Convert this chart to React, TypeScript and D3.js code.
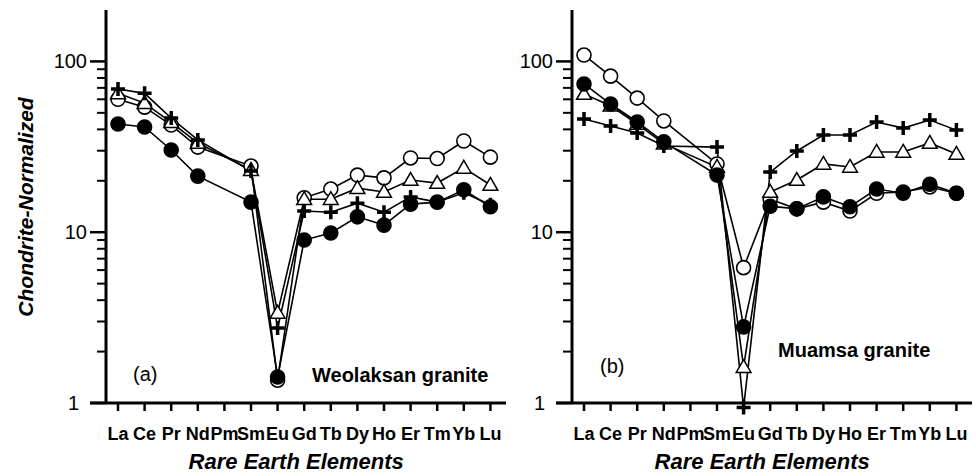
import React, { useEffect, useRef } from "react";
import * as d3 from "d3";

const elements = ["La", "Ce", "Pr", "Nd", "Pm", "Sm", "Eu", "Gd", "Tb", "Dy", "Ho", "Er", "Tm", "Yb", "Lu"];
const yTicks = [1, 10, 100];

// (a) Weolaksan granite
const weolOpen = [60, 54, 42.4, 31.5, null, 24.4, 1.36, 15.9, 17.9, 21.6, 20.8, 27.2, 27, 34.2, 27.5];
const weolFilled = [43, 41.3, 30.3, 21.3, null, 15.0, 1.42, 9.0, 9.9, 12.3, 11.0, 14.6, 15.0, 17.7, 14.1];
const weolTriangle = [65, 57, 44, 33.3, null, 23.1, 3.37, 15.6, 15.6, 18.1, 17.2, 20.2, 19.4, 23.8, 18.9];
const weolCross = [69, 65, 46.6, 34.7, null, 22.8, 2.75, 13.3, 13.1, 14.8, 13.1, 16.1, 15.0, 17.0, 14.5];

// (b) Muamsa granite
const muamOpen = [109, 82, 61, 44.8, null, 25.1, 6.2, 15.6, 13.7, 15.0, 13.3, 16.9, 17.2, 18.4, 16.9];
const muamFilled = [73.8, 56.3, 44.2, 33.8, null, 21.6, 2.79, 14.2, 13.7, 16.1, 14.1, 17.9, 16.9, 19.1, 16.9];
const muamTriangle = [64.4, 55, 43, 33, null, 24.1, 1.62, 17.2, 20.2, 25.1, 24.1, 29.5, 29.5, 33.3, 28.7];
const muamCross = [46, 41.9, 38.1, 32.0, null, 31.5, 0.94, 22.5, 29.9, 37.1, 37.1, 44.2, 40.7, 45.4, 39.6];

type Series = { values: (number | null)[]; marker: string };

const panels = [
  {
    axisX: 106, firstX: 118, axisEnd: 506, tag: "(a)", tagX: 133, tagY: 381,
    name: "Weolaksan granite", nameX: 312, nameY: 382, yTitle: true,
    series: [
      { values: weolOpen, marker: "open" },
      { values: weolTriangle, marker: "triangle" },
      { values: weolCross, marker: "cross" },
      { values: weolFilled, marker: "filled" },
    ] as Series[],
  },
  {
    axisX: 572, firstX: 584, axisEnd: 972, tag: "(b)", tagX: 600, tagY: 373,
    name: "Muamsa granite", nameX: 778, nameY: 357, yTitle: false,
    series: [
      { values: muamOpen, marker: "open" },
      { values: muamTriangle, marker: "triangle" },
      { values: muamCross, marker: "cross" },
      { values: muamFilled, marker: "filled" },
    ] as Series[],
  },
];

const FONT = "'Liberation Sans', Arial, sans-serif";

function drawPanel(svg: any, p: any) {
  const y = d3.scaleLog().domain([1, 200]).range([403, 10]);
  const x = d3.scalePoint().domain(elements).range([p.firstX, p.firstX + 14 * 26.6]);
  const g = svg.append("g");

  // y axis
  g.append("line").attr("x1", p.axisX).attr("x2", p.axisX).attr("y1", 10).attr("y2", 404)
    .attr("stroke", "#000").attr("stroke-width", 3);
  const minor: number[] = [];
  [1, 10].forEach((d) => { for (let k = 2; k <= 9; k++) minor.push(d * k); });
  g.selectAll(".minor").data(minor).join("line")
    .attr("x1", p.axisX - 9).attr("x2", p.axisX).attr("y1", (d: number) => y(d)).attr("y2", (d: number) => y(d))
    .attr("stroke", "#000").attr("stroke-width", 2);
  g.selectAll(".major").data(yTicks).join("line")
    .attr("x1", p.axisX - 16).attr("x2", p.axisX).attr("y1", (d: number) => y(d)).attr("y2", (d: number) => y(d))
    .attr("stroke", "#000").attr("stroke-width", 2.5);
  g.selectAll(".ylab").data(yTicks).join("text")
    .attr("x", (d: number) => (d === 1 ? p.axisX - 27 : p.axisX - 19)).attr("y", (d: number) => y(d) + 7)
    .attr("text-anchor", "end").attr("font-family", FONT).attr("font-size", 20)
    .text((d: number) => d);

  // x axis
  g.append("line").attr("x1", p.axisX - 16).attr("x2", p.axisEnd).attr("y1", 403).attr("y2", 403)
    .attr("stroke", "#000").attr("stroke-width", 3);
  g.selectAll(".xtick").data(elements).join("line")
    .attr("x1", (d: string) => x(d)).attr("x2", (d: string) => x(d)).attr("y1", 403).attr("y2", 411)
    .attr("stroke", "#000").attr("stroke-width", 2.5);
  g.selectAll(".xlab").data(elements).join("text")
    .attr("x", (d: string) => x(d)).attr("y", 440).attr("text-anchor", "middle")
    .attr("font-family", FONT).attr("font-weight", "bold").attr("font-size", 18)
    .text((d: string) => d);
  g.append("text").attr("x", (x("La")! + x("Lu")!) / 2 - 8).attr("y", 469).attr("text-anchor", "middle")
    .attr("font-family", FONT).attr("font-weight", "bold").attr("font-style", "italic").attr("font-size", 22)
    .text("Rare Earth Elements");

  if (p.yTitle) {
    g.append("text").attr("transform", "translate(33,207) rotate(-90)").attr("text-anchor", "middle")
      .attr("font-family", FONT).attr("font-weight", "bold").attr("font-style", "italic").attr("font-size", 21)
      .text("Chondrite-Normalized");
  }

  g.append("text").attr("x", p.tagX).attr("y", p.tagY).attr("font-family", FONT).attr("font-size", 20).text(p.tag);
  g.append("text").attr("x", p.nameX).attr("y", p.nameY).attr("font-family", FONT)
    .attr("font-weight", "bold").attr("font-size", 20).text(p.name);

  const pts = (s: Series) =>
    elements.map((e, i) => ({ e, v: s.values[i] })).filter((d) => d.v !== null) as { e: string; v: number }[];

  const line = d3.line<{ e: string; v: number }>().x((d) => x(d.e)!).y((d) => y(d.v));
  p.series.forEach((s: Series) => {
    g.append("path").attr("d", line(pts(s))).attr("fill", "none").attr("stroke", "#000").attr("stroke-width", 1.6);
  });

  p.series.forEach((s: Series) => {
    const mg = g.append("g");
    pts(s).forEach((d) => {
      const cx = x(d.e)!, cy = y(d.v);
      if (s.marker === "open" || s.marker === "filled") {
        mg.append("circle").attr("cx", cx).attr("cy", cy).attr("r", 7)
          .attr("fill", s.marker === "filled" ? "#000" : "#fff").attr("stroke", "#000").attr("stroke-width", 1.6);
      } else if (s.marker === "triangle") {
        const tri = d3.symbol().type(d3.symbolTriangle).size(95);
        mg.append("path").attr("d", tri()).attr("transform", `translate(${cx},${cy + 1})`)
          .attr("fill", "#fff").attr("stroke", "#000").attr("stroke-width", 1.5);
      } else {
        mg.append("path").attr("d", `M${cx - 7},${cy}H${cx + 7}M${cx},${cy - 7}V${cy + 7}`)
          .attr("stroke", "#000").attr("stroke-width", 3.5);
      }
    });
  });
}

export default function App() {
  const ref = useRef<SVGSVGElement>(null);

  useEffect(() => {
    const svg = d3.select(ref.current);
    svg.selectAll("*").remove();
    panels.forEach((p) => drawPanel(svg, p));
  }, []);

  return (
    <svg ref={ref} width={976} height={476}
      style={{ position: "absolute", left: 0, top: 0, background: "#fff" }} />
  );
}
